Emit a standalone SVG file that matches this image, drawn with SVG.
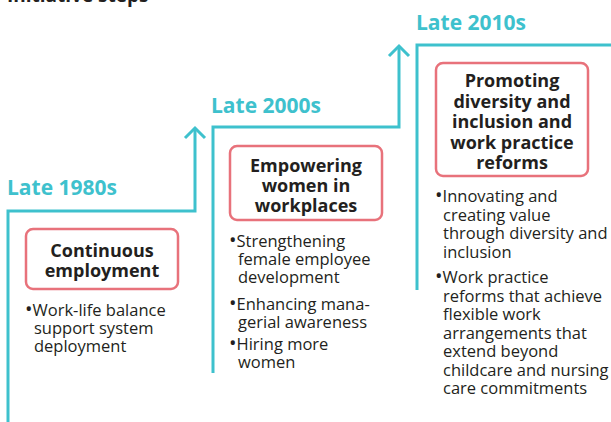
<svg xmlns="http://www.w3.org/2000/svg" width="611" height="422" viewBox="0 0 611 422">
<defs>
<style>
.ln{fill:none;stroke:#3ec1cd;stroke-width:3;stroke-linejoin:miter}
.ar{fill:none;stroke:#3ec1cd;stroke-width:3}
.box{fill:#fff;stroke:#e8727b;stroke-width:2.5}
.era{font-family:"Open Sans","Noto Sans",sans-serif;font-weight:bold;font-size:21px;fill:#3ec1cd}
.ttl{font-family:"Open Sans","Noto Sans",sans-serif;font-weight:bold;font-size:18px;fill:#231f20;text-anchor:middle}
.bl{font-family:"Open Sans","Noto Sans",sans-serif;font-size:16.5px;fill:#231f20}
.bu{font-size:20px}
.hd{font-family:"Open Sans","Noto Sans",sans-serif;font-weight:bold;font-size:19px;fill:#231f20}
</style>
</defs>
<text class="hd" x="7" y="2">Initiative steps</text>
<g id="connectors">
<path class="ln" d="M8,422 V211 H195 V129"/>
<path class="ar" d="M185,138 L195,128 L205,138"/>
<path class="ln" d="M213,373 V127 H399 V47"/>
<path class="ar" d="M389,56 L399,46 L409,56"/>
<path class="ln" d="M417,290 V45 H611"/>
</g>
<g id="step1">
<text class="era" x="7" y="195">Late 1980s</text>
<rect class="box" x="26" y="229" width="152" height="60" rx="7"/>
<text class="ttl" x="102" y="257">Continuous</text>
<text class="ttl" x="102" y="277">employment</text>
<text class="bl" x="25" y="316"><tspan class="bu">•</tspan>Work-life balance</text>
<text class="bl" x="34" y="334">support system</text>
<text class="bl" x="34" y="352">deployment</text>
</g>
<g id="step2">
<text class="era" x="211" y="113">Late 2000s</text>
<rect class="box" x="230" y="146" width="152" height="74" rx="7"/>
<text class="ttl" x="306" y="172">Empowering</text>
<text class="ttl" x="306" y="192">women in</text>
<text class="ttl" x="306" y="212">workplaces</text>
<text class="bl" x="229" y="247"><tspan class="bu">•</tspan>Strengthening</text>
<text class="bl" x="238" y="265">female employee</text>
<text class="bl" x="238" y="283">development</text>
<text class="bl" x="229" y="310"><tspan class="bu">•</tspan>Enhancing mana-</text>
<text class="bl" x="238" y="328">gerial awareness</text>
<text class="bl" x="229" y="350"><tspan class="bu">•</tspan>Hiring more</text>
<text class="bl" x="238" y="368">women</text>
</g>
<g id="step3">
<text class="era" x="416" y="30">Late 2010s</text>
<rect class="box" x="436" y="63" width="152" height="113" rx="7"/>
<text class="ttl" x="512" y="87">Promoting</text>
<text class="ttl" x="512" y="107.5">diversity and</text>
<text class="ttl" x="512" y="128">inclusion and</text>
<text class="ttl" x="512" y="148.5">work practice</text>
<text class="ttl" x="512" y="169">reforms</text>
<text class="bl" x="435" y="202"><tspan class="bu">•</tspan>Innovating and</text>
<text class="bl" x="443" y="220.5">creating value</text>
<text class="bl" x="443" y="239">through diversity and</text>
<text class="bl" x="443" y="257.5">inclusion</text>
<text class="bl" x="435" y="283"><tspan class="bu">•</tspan>Work practice</text>
<text class="bl" x="443" y="301.5">reforms that achieve</text>
<text class="bl" x="443" y="320">flexible work</text>
<text class="bl" x="443" y="338.5">arrangements that</text>
<text class="bl" x="443" y="357">extend beyond</text>
<text class="bl" x="443" y="375.5">childcare and nursing</text>
<text class="bl" x="443" y="394">care commitments</text>
</g>
</svg>
